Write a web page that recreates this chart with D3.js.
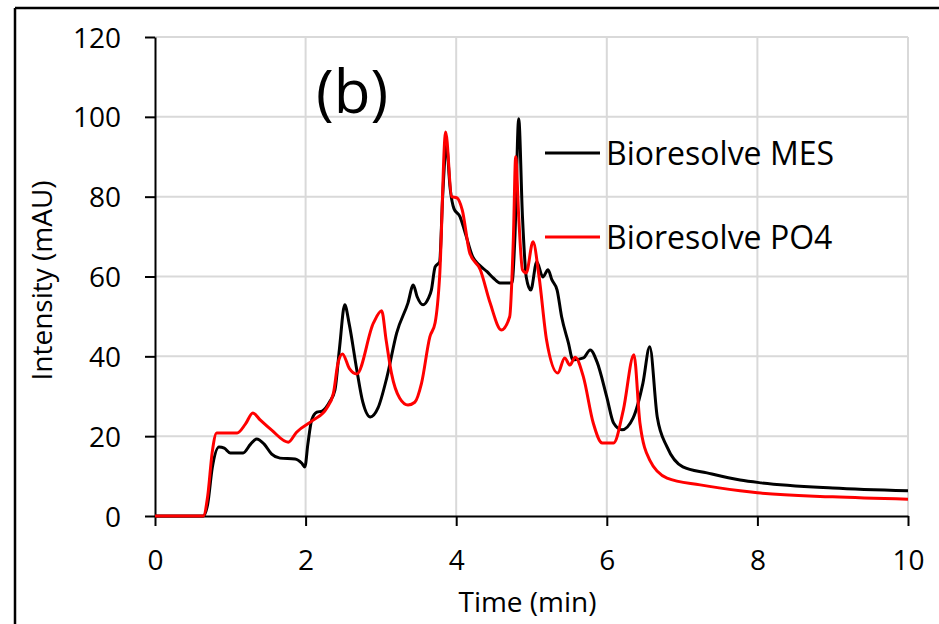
<!DOCTYPE html>
<html>
<head>
<meta charset="utf-8">
<script src="https://cdn.jsdelivr.net/npm/d3@7"></script>
<style>
  html, body { margin: 0; padding: 0; background: #fff; }
  svg { display: block; }
  text { font-family: "Open Sans", sans-serif; fill: #000; }
</style>
</head>
<body>
<svg id="chart" width="939" height="624"></svg>
<script>
// ---- data ----
const timeMES = [0, 0.64, 0.7, 0.76, 0.85, 0.92, 1.0, 1.17, 1.27, 1.35, 1.45, 1.55, 1.66, 1.86, 1.95, 1.99,
  2.03, 2.08, 2.15, 2.22, 2.32, 2.39, 2.45, 2.52, 2.58, 2.68, 2.76, 2.86, 2.96, 3.08, 3.21, 3.36, 3.43,
  3.48, 3.56, 3.63, 3.67, 3.72, 3.78, 3.82, 3.87, 3.92, 3.97, 4.05, 4.12, 4.22, 4.3, 4.41, 4.5, 4.58,
  4.74, 4.78, 4.83, 4.88, 4.93, 4.99, 5.07, 5.15, 5.22, 5.27, 5.34, 5.4, 5.49, 5.55, 5.69, 5.78, 5.87,
  6.0, 6.09, 6.2, 6.35, 6.48, 6.57, 6.67, 6.8, 7.01, 7.33, 7.77, 8.05, 9.0, 10];
const mesValues = [0, 0, 3, 12, 17.3, 17, 15.8, 15.8, 18, 19.3, 18, 15.5, 14.5, 14.3, 13.2, 12.3,
  18, 24, 26, 26.3, 28.6, 31.6, 42, 52.9, 48, 36.6, 28.5, 24.8, 27, 34.8, 45.9, 53.4, 57.9,
  55, 52.9, 54.5, 56.6, 62.4, 63.7, 80, 93, 82, 77, 75, 70.9, 64.9, 63, 61.2, 59.5, 58.4,
  58.4, 70, 99.5, 75, 59.9, 56.6, 63.7, 59.9, 61.7, 59.2, 56.6, 49.9, 43.4, 39.1, 39.6, 41.6, 38.6,
  29.8, 23.3, 21.6, 24.6, 33.3, 42.4, 24.8, 17.3, 12.3, 10.8, 9.0, 8.3, 7.0, 6.3];

const timePO4 = [0, 0.64, 0.7, 0.76, 0.82, 1.09, 1.2, 1.3, 1.4, 1.55, 1.77, 1.88, 2.1, 2.28, 2.37, 2.43,
  2.49, 2.58, 2.68, 2.9, 3.01, 3.07, 3.14, 3.25, 3.36, 3.45, 3.54, 3.65, 3.72, 3.78, 3.86, 3.94, 4.01,
  4.08, 4.18, 4.32, 4.45, 4.6, 4.71, 4.76, 4.79, 4.83, 4.88, 4.93, 5.02, 5.1, 5.2, 5.35, 5.44, 5.51,
  5.58, 5.69, 5.82, 5.94, 6.09, 6.22, 6.36, 6.44, 6.57, 6.8, 7.24, 7.77, 8.0, 9.0, 10];
const po4Values = [0, 0, 5, 16, 20.8, 20.8, 23, 25.8, 24, 21.5, 18.5, 21, 24, 27, 30.8, 38.3,
  40.6, 37, 35.6, 48.3, 51.4, 44, 35.8, 29.5, 27.8, 28.5, 33.3, 44.9, 48.4, 60, 96.2, 80, 79.7,
  76.7, 65.9, 61.7, 53.4, 46.6, 49.9, 70, 90, 75, 61.7, 60.9, 68.7, 60, 44.1, 35.8, 39.6, 37.8,
  39.8, 34.8, 23.3, 18.3, 18.3, 26.6, 40.4, 23.3, 14, 9.5, 7.8, 6.3, 5.8, 4.8, 4.2];

const seriesNames = ["Bioresolve MES", "Bioresolve PO4"];
const seriesColors = ["#000000", "#ff0000"];
const xTicks = [0, 2, 4, 6, 8, 10];
const yTicks = [0, 20, 40, 60, 80, 100, 120];
const xTitle = "Time (min)";
const yTitle = "Intensity (mAU)";
const panelLabel = "(b)";

// ---- layout ----
const svg = d3.select("#chart");
const W = 939, H = 624;
const mLeft = 155, mRight = 908, mTop = 37, mBottom = 516;

svg.append("rect").attr("width", W).attr("height", H).attr("fill", "#fff");
// frame (top + left visible)
svg.append("line").attr("x1", 15).attr("x2", W).attr("y1", 8).attr("y2", 8)
  .attr("stroke", "#000").attr("stroke-width", 2.5);
svg.append("line").attr("x1", 15).attr("x2", 15).attr("y1", 8).attr("y2", H)
  .attr("stroke", "#000").attr("stroke-width", 2.5);

const x = d3.scaleLinear().domain([0, 10]).range([mLeft, mRight]);
const y = d3.scaleLinear().domain([0, 120]).range([mBottom, mTop]);

// gridlines
const grid = svg.append("g").attr("stroke", "#d9d9d9").attr("stroke-width", 2);
grid.selectAll(".hg").data(yTicks.filter(d => d > 0)).enter().append("line")
  .attr("x1", mLeft).attr("x2", mRight).attr("y1", d => y(d)).attr("y2", d => y(d));
grid.selectAll(".vg").data(xTicks.filter(d => d > 0)).enter().append("line")
  .attr("y1", mTop).attr("y2", mBottom).attr("x1", d => x(d)).attr("x2", d => x(d));

// axes
const xAxis = d3.axisBottom(x).tickValues(xTicks).tickSize(10).tickPadding(24).tickSizeOuter(0);
const yAxis = d3.axisLeft(y).tickValues(yTicks).tickSize(10).tickPadding(24).tickSizeOuter(0);

const gx = svg.append("g").attr("transform", `translate(0,${mBottom})`).call(xAxis);
const gy = svg.append("g").attr("transform", `translate(${mLeft},0)`).call(yAxis);
[gx, gy].forEach(g => {
  g.select(".domain").attr("stroke", "#000").attr("stroke-width", 2);
  g.selectAll(".tick line").attr("stroke", "#000").attr("stroke-width", 2);
  g.selectAll(".tick text").style("font-family", "'Open Sans', sans-serif")
    .style("font-size", "28px").attr("fill", "#000");
});
gx.selectAll(".tick text").attr("dy", "0.71em").attr("y", 34);
gy.selectAll(".tick text").attr("x", -34).attr("dy", "0.36em");

// titles
svg.append("text").attr("x", (mLeft + mRight) / 2 - 4).attr("y", 612)
  .attr("text-anchor", "middle").style("font-size", "28px").text(xTitle);
svg.append("text").attr("transform", `translate(52,${(mTop + mBottom) / 2 + 4}) rotate(-90)`)
  .attr("text-anchor", "middle").style("font-size", "28px").text(yTitle);
svg.append("text").attr("x", 316).attr("y", 113).style("font-size", "60px").text(panelLabel);

// lines
const line = d3.line().x(d => x(d[0])).y(d => y(d[1])).curve(d3.curveMonotoneX);
const dataMES = timeMES.map((t, i) => [t, mesValues[i]]);
const dataPO4 = timePO4.map((t, i) => [t, po4Values[i]]);
const plot = svg.append("g");
plot.append("path").datum(dataMES).attr("d", line).attr("fill", "none")
  .attr("stroke", seriesColors[0]).attr("stroke-width", 3).attr("stroke-linejoin", "round");
plot.append("path").datum(dataPO4).attr("d", line).attr("fill", "none")
  .attr("stroke", seriesColors[1]).attr("stroke-width", 3).attr("stroke-linejoin", "round");

// legend
const legY = [153, 237];
const leg = svg.append("g");
seriesNames.forEach((name, i) => {
  leg.append("line").attr("x1", 545).attr("x2", 600).attr("y1", legY[i]).attr("y2", legY[i])
    .attr("stroke", seriesColors[i]).attr("stroke-width", 3);
  leg.append("text").attr("x", 606).attr("y", legY[i] + 12).style("font-size", "32px").text(name);
});
</script>
</body>
</html>
